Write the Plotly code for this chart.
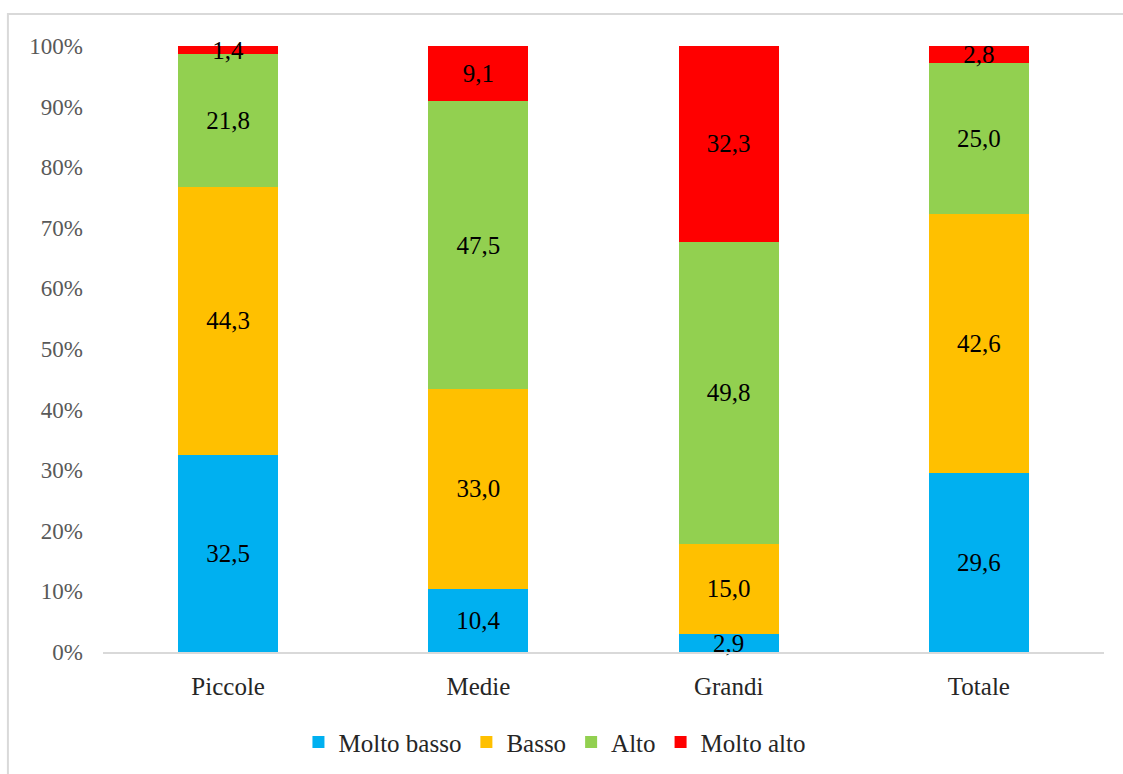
import plotly.graph_objects as go

categories = ["Piccole", "Medie", "Grandi", "Totale"]
series_names = ["Molto basso", "Basso", "Alto", "Molto alto"]
molto_basso = [32.5, 10.4, 2.9, 29.6]
basso = [44.3, 33.0, 15.0, 42.6]
alto = [21.8, 47.5, 49.8, 25.0]
molto_alto = [1.4, 9.1, 32.3, 2.8]
series_colors = ["#00B0F0", "#FFC000", "#92D050", "#FF0000"]
y_ticks = [0, 10, 20, 30, 40, 50, 60, 70, 80, 90, 100]
y_tick_labels = [f"{v}%" for v in y_ticks]

FONT = "Liberation Serif"

fig = go.Figure()
for name, vals, col in zip(series_names, [molto_basso, basso, alto, molto_alto], series_colors):
    fig.add_trace(go.Bar(
        x=categories, y=vals, name=name,
        marker=dict(color=col, line=dict(width=0)),
        texttemplate="%{y:.1f}", textposition="inside",
        insidetextanchor="middle", textangle=0,
        textfont=dict(family=FONT, size=25, color="#000000"),
        constraintext="none", cliponaxis=False,
    ))

fig.update_layout(
    barmode="stack",
    bargap=0.6,
    width=1123, height=774,
    margin=dict(l=103, r=19, t=46, b=122, autoexpand=False),
    paper_bgcolor="white", plot_bgcolor="white",
    separators=",.",
    font=dict(family=FONT),
    uniformtext=dict(minsize=25, mode="show"),
    showlegend=True,
    legend=dict(
        orientation="h", x=0.451, xanchor="center", y=-0.149, yanchor="middle",
        font=dict(family=FONT, size=25, color="#262626"),
        itemwidth=30, traceorder="normal", tracegroupgap=0,
    ),
    xaxis=dict(
        showgrid=False, showline=True, linecolor="#D9D9D9", linewidth=2,
        ticks="", tickfont=dict(family=FONT, size=25, color="#262626"),
        ticklabelstandoff=11, automargin=False,
    ),
    yaxis=dict(
        range=[0, 100], tickvals=y_ticks, ticktext=y_tick_labels,
        showgrid=False, showline=False, zeroline=False, ticks="",
        tickfont=dict(family=FONT, size=23, color="#595959"),
        ticklabelstandoff=19, automargin=False,
    ),
    shapes=[dict(
        type="rect", xref="paper", yref="paper",
        x0=-0.095, x1=1.2, y0=-0.4, y1=1.0528,
        line=dict(color="#D9D9D9", width=2), fillcolor="rgba(0,0,0,0)", layer="below",
    )],
)

fig.write_html("out.html")
